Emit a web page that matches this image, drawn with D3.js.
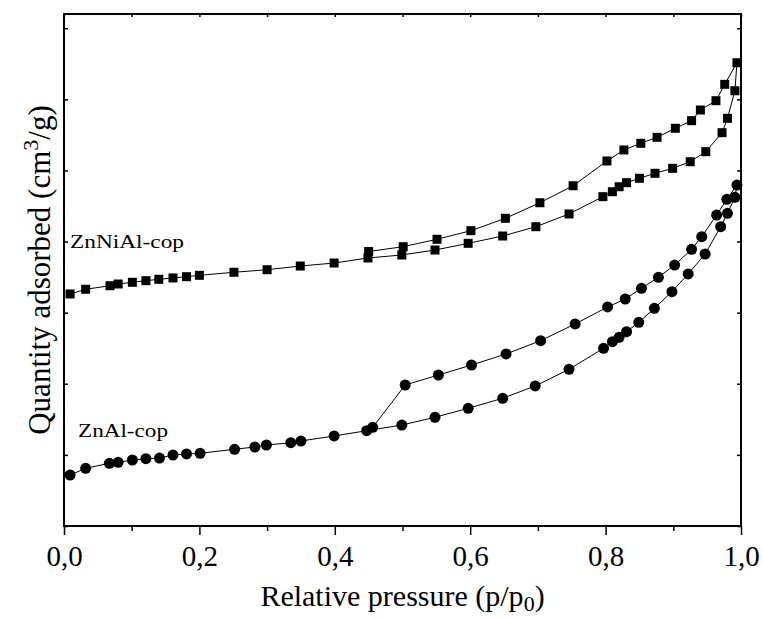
<!DOCTYPE html>
<html>
<head>
<meta charset="utf-8">
<script src="https://cdnjs.cloudflare.com/ajax/libs/d3/7.8.5/d3.min.js"></script>
<style>
  html, body { margin: 0; padding: 0; background: #fff; }
  svg { display: block; }
</style>
</head>
<body>
<svg id="chart" width="762" height="619"></svg>
<script>
// ---- Data ----
const xTicks = [0, 0.2, 0.4, 0.6, 0.8, 1.0];
const xTickLabels = ["0,0", "0,2", "0,4", "0,6", "0,8", "1,0"];
const xMinorTicks = [0.1, 0.3, 0.5, 0.7, 0.9];
const yTicks = [0, 10, 20, 30, 40, 50, 60, 70];

// ZnNiAl-cop (squares)
const znNiAlAdsP = [0.009, 0.032, 0.068, 0.080, 0.101, 0.121, 0.140, 0.161, 0.181, 0.200, 0.251, 0.300, 0.349, 0.399, 0.449, 0.499, 0.548, 0.597, 0.648, 0.697, 0.746, 0.796, 0.810, 0.820, 0.831, 0.850, 0.873, 0.899, 0.925, 0.948, 0.972, 0.980, 0.991, 0.994];
const znNiAlAdsQ = [32.63, 33.29, 33.79, 34.03, 34.27, 34.50, 34.69, 34.88, 35.06, 35.25, 35.68, 36.04, 36.56, 36.98, 37.69, 38.11, 38.81, 39.75, 40.78, 42.09, 43.88, 46.31, 47.01, 47.71, 48.28, 48.90, 49.60, 50.30, 51.23, 52.64, 55.31, 57.33, 61.21, 65.15];
const znNiAlDesP = [0.976, 0.963, 0.940, 0.927, 0.903, 0.876, 0.852, 0.827, 0.802, 0.752, 0.703, 0.652, 0.601, 0.551, 0.501, 0.450];
const znNiAlDesQ = [62.11, 59.81, 58.50, 57.00, 55.93, 54.66, 53.82, 52.88, 51.33, 47.85, 45.46, 43.27, 41.53, 40.32, 39.28, 38.60];

// ZnAl-cop (circles)
const znAlAdsP = [0.009, 0.032, 0.067, 0.080, 0.101, 0.121, 0.141, 0.161, 0.181, 0.201, 0.252, 0.282, 0.299, 0.335, 0.350, 0.399, 0.447, 0.499, 0.548, 0.597, 0.648, 0.696, 0.746, 0.797, 0.810, 0.820, 0.831, 0.849, 0.872, 0.898, 0.922, 0.947, 0.970, 0.980, 0.991, 0.994];
const znAlAdsQ = [7.17, 8.11, 8.82, 8.96, 9.28, 9.46, 9.56, 9.98, 10.13, 10.22, 10.79, 11.11, 11.39, 11.71, 11.95, 12.66, 13.40, 14.20, 15.29, 16.55, 17.96, 19.69, 22.04, 24.99, 25.92, 26.54, 27.32, 28.65, 30.61, 32.95, 35.44, 38.25, 42.09, 43.97, 46.22, 47.95];
const znAlDesP = [0.979, 0.964, 0.942, 0.927, 0.902, 0.878, 0.853, 0.829, 0.803, 0.755, 0.704, 0.653, 0.602, 0.553, 0.504, 0.456];
const znAlDesQ = [45.94, 43.73, 40.68, 38.91, 36.70, 34.97, 33.43, 31.92, 30.80, 28.41, 26.06, 24.19, 22.64, 21.23, 19.83, 13.88];

const seriesLabels = ["ZnNiAl-cop", "ZnAl-cop"];

// ---- Layout ----
const FONT = "'Liberation Serif', Tinos, 'Times New Roman', 'DejaVu Serif', serif";
const L = 64, R = 741, T = 14, B = 526;
const svg = d3.select("#chart");
const x = d3.scaleLinear().domain([0, 1]).range([L, R]);
const y = d3.scaleLinear().domain([0, 72]).range([B, T]);

const zip = (ps, qs) => ps.map((p, i) => ({p: p, q: qs[i]}));
const znNiAl = zip(znNiAlAdsP, znNiAlAdsQ).concat(zip(znNiAlDesP, znNiAlDesQ));
const znAl = zip(znAlAdsP, znAlAdsQ).concat(zip(znAlDesP, znAlDesQ));

const line = d3.line().x(d => x(d.p)).y(d => y(d.q));

function styleAxis(g) {
  g.select(".domain").remove();
  g.attr("font-family", FONT);
  g.selectAll(".tick line").attr("stroke", "#000").attr("stroke-width", 1.5);
}
// bottom major
svg.append("g").attr("transform", `translate(0,${B})`)
  .call(d3.axisBottom(x).tickValues(xTicks).tickSize(9).tickPadding(10)
        .tickFormat((d, i) => xTickLabels[i]))
  .call(styleAxis)
  .call(g => g.selectAll("text").attr("font-size", 29).attr("font-family", FONT).attr("fill", "#000"));
// bottom minor
svg.append("g").attr("transform", `translate(0,${B})`)
  .call(d3.axisBottom(x).tickValues(xMinorTicks).tickSize(5).tickFormat(""))
  .call(styleAxis);
// top inward
svg.append("g").attr("transform", `translate(0,${T})`)
  .call(d3.axisBottom(x).tickValues(xTicks.concat(xMinorTicks)).tickSize(3).tickFormat(""))
  .call(styleAxis);
// left inward
svg.append("g").attr("transform", `translate(${L},0)`)
  .call(d3.axisRight(y).tickValues(yTicks).tickSize(4).tickFormat(""))
  .call(styleAxis);
// right inward
svg.append("g").attr("transform", `translate(${R},0)`)
  .call(d3.axisLeft(y).tickValues(yTicks).tickSize(4).tickFormat(""))
  .call(styleAxis);

// Frame
svg.append("rect").attr("x", L).attr("y", T).attr("width", R - L).attr("height", B - T)
  .attr("fill", "none").attr("stroke", "#000").attr("stroke-width", 2);

// Lines
[znNiAl, znAl].forEach(data => {
  svg.append("path").datum(data).attr("d", line)
    .attr("fill", "none").attr("stroke", "#000").attr("stroke-width", 1);
});

// Markers
const sq = 9;
svg.append("g").selectAll("rect").data(znNiAl).join("rect")
  .attr("x", d => x(d.p) - sq / 2).attr("y", d => y(d.q) - sq / 2)
  .attr("width", sq).attr("height", sq).attr("fill", "#000");
svg.append("g").selectAll("circle").data(znAl).join("circle")
  .attr("cx", d => x(d.p)).attr("cy", d => y(d.q)).attr("r", 5.5).attr("fill", "#000");

// Series labels
svg.append("text").attr("x", 70).attr("y", 248).attr("font-family", FONT).attr("font-size", 19)
  .attr("textLength", 114).attr("lengthAdjust", "spacingAndGlyphs").text(seriesLabels[0]);
svg.append("text").attr("x", 78).attr("y", 437).attr("font-family", FONT).attr("font-size", 19)
  .attr("textLength", 90).attr("lengthAdjust", "spacingAndGlyphs").text(seriesLabels[1]);

// X axis title
const xt = svg.append("text").attr("x", (L + R) / 2).attr("y", 606)
  .attr("text-anchor", "middle").attr("font-family", FONT).attr("font-size", 30);
xt.append("tspan").text("Relative pressure (p/p");
xt.append("tspan").attr("font-size", 22).attr("dy", 5).text("0");
xt.append("tspan").attr("dy", -5).text(")");

// Y axis title
const yt = svg.append("text").attr("transform", `translate(50,${(T + B) / 2}) rotate(-90)`)
  .attr("text-anchor", "middle").attr("font-family", FONT).attr("font-size", 31);
yt.append("tspan").text("Quantity adsorbed (cm");
yt.append("tspan").attr("font-size", 22).attr("dy", -12).text("3");
yt.append("tspan").attr("dy", 12).text("/g)");
</script>
</body>
</html>
